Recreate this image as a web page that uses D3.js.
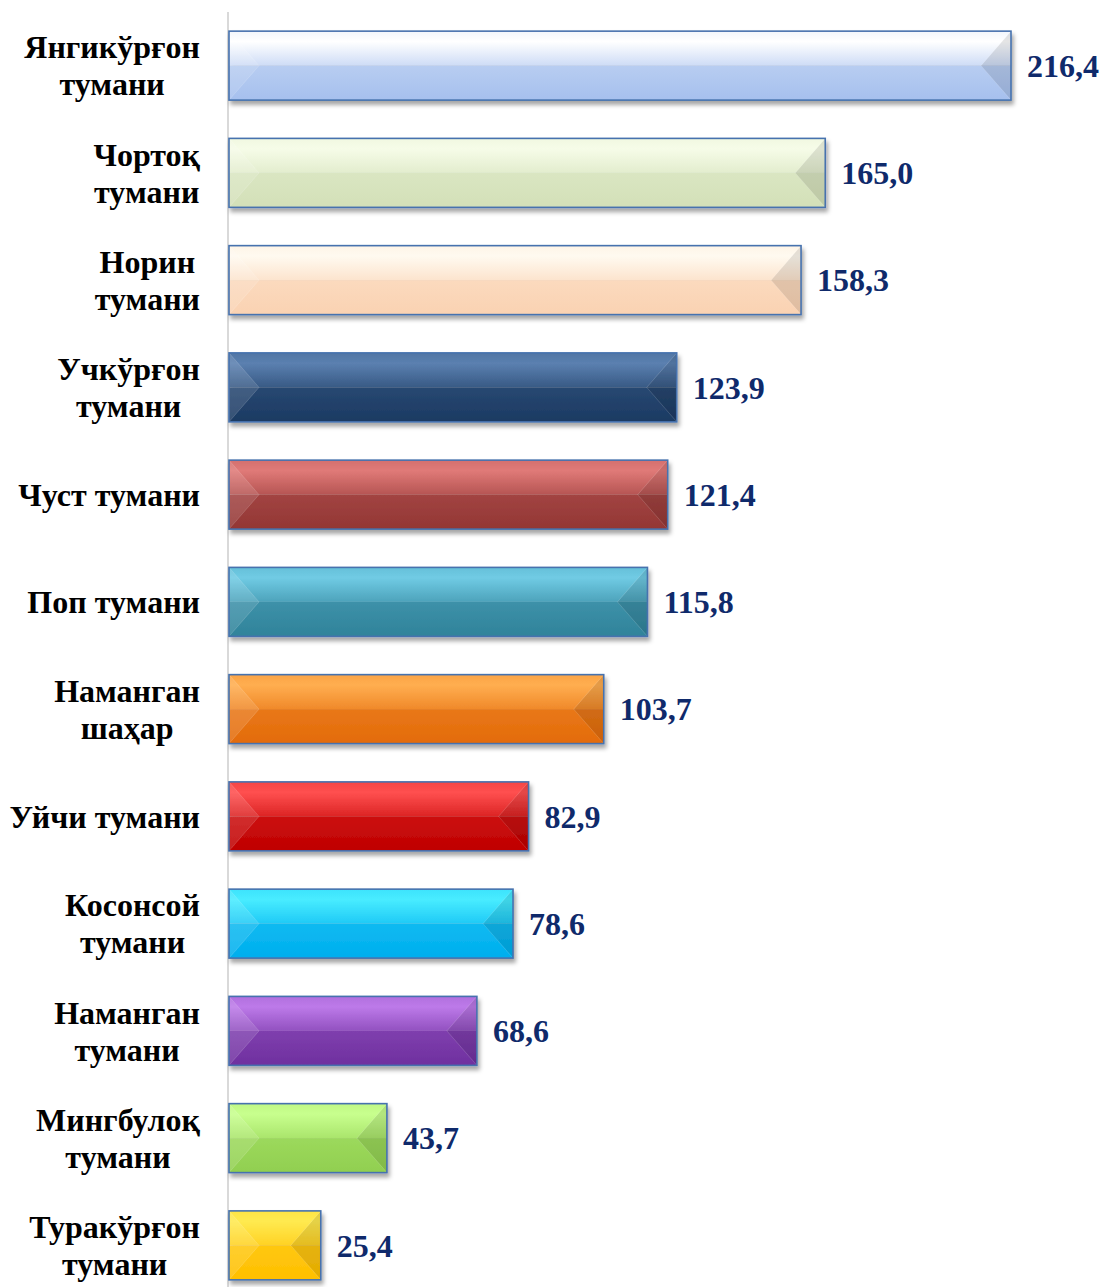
<!DOCTYPE html>
<html>
<head>
<meta charset="utf-8">
<script src="https://cdn.jsdelivr.net/npm/d3@7"></script>
<style>
  html, body { margin: 0; padding: 0; background: #fff; }
  svg { display: block; }
</style>
</head>
<body>
<svg id="chart" width="1102" height="1287"></svg>
<script>
const categories = [
  "Янгикўрғон\nтумани",
  "Чортоқ\nтумани",
  "Норин\nтумани",
  "Учкўрғон\nтумани",
  "Чуст тумани",
  "Поп тумани",
  "Наманган\nшаҳар",
  "Уйчи тумани",
  "Косонсой\nтумани",
  "Наманган\nтумани",
  "Мингбулоқ\nтумани",
  "Туракўрғон\nтумани"
];
const values = [216.4, 165.0, 158.3, 123.9, 121.4, 115.8, 103.7, 82.9, 78.6, 68.6, 43.7, 25.4];
const valueLabels = ["216,4", "165,0", "158,3", "123,9", "121,4", "115,8", "103,7", "82,9", "78,6", "68,6", "43,7", "25,4"];
const topColors = ["#ffffff", "#f6fce8", "#fffaf0", "#5b80b0", "#e07a78", "#70cbe4", "#ffae50", "#ff5050", "#48ecff", "#bd7ae9", "#c8ff8e", "#ffea50"];
const bottomColors = ["#a6c0ee", "#d3e0b8", "#fad2b2", "#1b3a62", "#933634", "#30839a", "#e36b0a", "#bf0000", "#00aeee", "#6f309f", "#91cf50", "#ffbf00"];

const svg = d3.select("#chart");
const defs = svg.append("defs");
const f = defs.append("filter").attr("id", "shadow").attr("x", "-5%").attr("y", "-20%").attr("width", "115%").attr("height", "150%");
f.append("feDropShadow").attr("dx", 2).attr("dy", 4).attr("stdDeviation", 2.2).attr("flood-color", "#000").attr("flood-opacity", 0.35);

const x0 = 229;
const x = d3.scaleLinear().domain([0, 216.4]).range([x0, 1011]);
const y = d3.scaleBand().domain(d3.range(categories.length)).range([12, 1299]).paddingInner(0.357).paddingOuter(0.1785);

values.forEach((v, i) => {
  const mid = d3.interpolateRgb(topColors[i], bottomColors[i])(0.55);
  const g1 = defs.append("linearGradient").attr("id", "gt" + i).attr("x1", 0).attr("y1", 0).attr("x2", 0).attr("y2", 1);
  g1.append("stop").attr("offset", "0%").attr("stop-color", d3.interpolateRgb(topColors[i], bottomColors[i])(0.15));
  g1.append("stop").attr("offset", "30%").attr("stop-color", topColors[i]);
  g1.append("stop").attr("offset", "100%").attr("stop-color", mid);
  const g2 = defs.append("linearGradient").attr("id", "gb" + i).attr("x1", 0).attr("y1", 0).attr("x2", 0).attr("y2", 1);
  g2.append("stop").attr("offset", "0%").attr("stop-color", d3.interpolateRgb(topColors[i], bottomColors[i])(0.8));
  g2.append("stop").attr("offset", "100%").attr("stop-color", bottomColors[i]);
});

svg.append("line").attr("x1", 228).attr("x2", 228).attr("y1", 12).attr("y2", 1287)
  .attr("stroke", "#d9d9d9").attr("stroke-width", 2);

const bars = svg.selectAll("g.bar").data(values).join("g").attr("class", "bar")
  .attr("filter", "url(#shadow)");

bars.each(function(v, i) {
  const g = d3.select(this);
  const bx = x(0), bw = x(v) - x(0), by = y(i), bh = y.bandwidth();
  const half = bh * 0.5;
  const bev = Math.min(30, bw / 3);
  g.append("rect").attr("x", bx).attr("y", by).attr("width", bw).attr("height", half)
    .attr("fill", `url(#gt${i})`);
  g.append("rect").attr("x", bx).attr("y", by + half).attr("width", bw).attr("height", bh - half)
    .attr("fill", `url(#gb${i})`);
  g.append("path").attr("d", `M${bx},${by}L${bx + bev},${by + half}L${bx},${by + bh}Z`)
    .attr("fill", "#ffffff").attr("opacity", 0.12);
  g.append("path").attr("d", `M${bx + bw},${by}L${bx + bw - bev},${by + half}L${bx + bw},${by + bh}Z`)
    .attr("fill", "#000000").attr("opacity", 0.10);
  g.append("path").attr("d", `M${bx},${by}L${bx + bev},${by + half}L${bx},${by + bh}M${bx + bw},${by}L${bx + bw - bev},${by + half}L${bx + bw},${by + bh}`)
    .attr("fill", "none").attr("stroke", "#ffffff").attr("stroke-opacity", 0.15).attr("stroke-width", 1);
  g.append("rect").attr("x", bx).attr("y", by).attr("width", bw).attr("height", bh)
    .attr("fill", "none").attr("stroke", "#4672ae").attr("stroke-width", 1.6);
});

svg.selectAll("text.val").data(values).join("text").attr("class", "val")
  .attr("x", d => x(d) + 16)
  .attr("y", (d, i) => y(i) + y.bandwidth() / 2)
  .attr("dy", "0.35em")
  .attr("font-family", "'Liberation Serif', 'Times New Roman', serif")
  .attr("font-weight", "bold")
  .attr("font-size", 32)
  .attr("fill", "#0f2a6b")
  .text((d, i) => valueLabels[i]);

const labelRight = 200;
const lineH = 37;
categories.forEach((c, i) => {
  const lines = c.split("\n");
  const t = svg.append("text")
    .attr("font-family", "'Liberation Serif', 'Times New Roman', serif")
    .attr("font-weight", "bold")
    .attr("font-size", 32)
    .attr("fill", "#000")
    .attr("text-anchor", "middle");
  const cy = y(i) + y.bandwidth() / 2;
  const startY = cy - (lines.length - 1) * lineH / 2;
  const tspans = lines.map((l, k) => t.append("tspan").attr("y", startY + k * lineH).attr("dy", "0.35em").text(l));
  let maxW = 0;
  tspans.forEach(ts => { maxW = Math.max(maxW, ts.node().getComputedTextLength()); });
  tspans.forEach(ts => ts.attr("x", labelRight - maxW / 2));
});
</script>
</body>
</html>
